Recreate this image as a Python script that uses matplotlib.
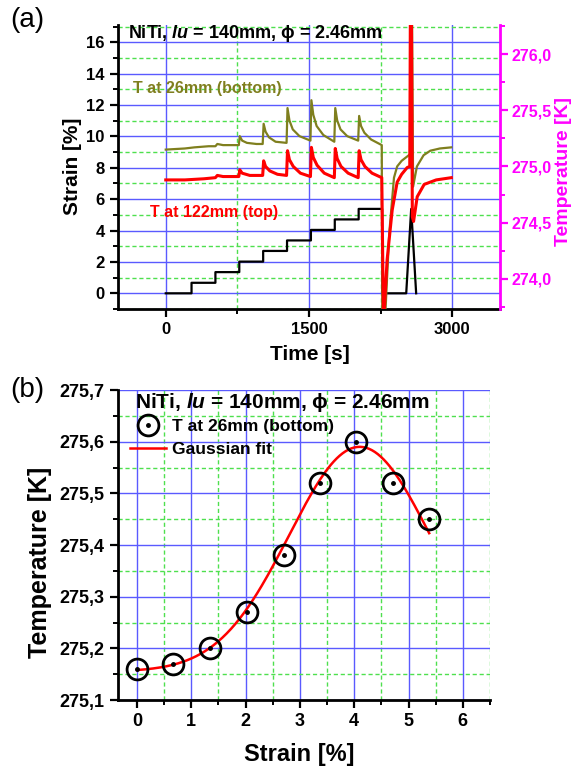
import matplotlib
matplotlib.use('Agg')
import matplotlib.pyplot as plt
import numpy as np
from matplotlib.ticker import MultipleLocator, FixedLocator, FixedFormatter
from matplotlib.legend_handler import HandlerTuple

plt.rcParams['font.family'] = ['Liberation Sans', 'DejaVu Sans']
plt.rcParams['font.weight'] = 'bold'
plt.rcParams['mathtext.fontset'] = 'custom'
plt.rcParams['mathtext.it'] = 'Liberation Sans:italic:bold'
plt.rcParams['mathtext.rm'] = 'Liberation Sans:bold'

# ---- panel (a): strain and temperatures vs time ----
strain_t = [0, 270, 270, 520, 520, 770, 770, 1020, 1020, 1270, 1270, 1520, 1520,
            1770, 1770, 2020, 2020, 2266, 2266, 2518, 2570, 2622]
strain_v = [0, 0, 0.67, 0.67, 1.35, 1.35, 2.02, 2.02, 2.7, 2.7, 3.37, 3.37, 4.04,
            4.04, 4.71, 4.71, 5.38, 5.38, 0, 0, 5.38, 0]

t_bottom = [0, 100, 200, 300, 450, 520, 540, 600, 700, 765,
            775, 800, 850, 950, 1015,
            1025, 1045, 1080, 1150, 1265,
            1275, 1295, 1330, 1400, 1515,
            1525, 1545, 1580, 1650, 1765,
            1775, 1795, 1830, 1900, 2015,
            2025, 2045, 2080, 2150, 2262,
            2268, 2300, 2340, 2390, 2423, 2470, 2530, 2560, 2566, 2578,
            2590, 2630, 2700, 2770, 2870, 2990]
T_bottom = [275.15, 275.155, 275.16, 275.17, 275.18, 275.18, 275.20, 275.19, 275.19, 275.19,
            275.27, 275.23, 275.21, 275.20, 275.20,
            275.38, 275.31, 275.26, 275.22, 275.21,
            275.52, 275.41, 275.33, 275.27, 275.23,
            275.59, 275.46, 275.36, 275.28, 275.22,
            275.52, 275.41, 275.33, 275.27, 275.23,
            275.45, 275.36, 275.30, 275.24, 275.19,
            273.60, 273.70, 274.40, 274.90, 275.00, 275.05, 275.09, 275.11, 276.50, 276.50,
            274.82, 275.00, 275.10, 275.14, 275.16, 275.17]

t_top = [0, 200, 400, 520, 540, 600, 765,
         775, 800, 880, 1015,
         1025, 1045, 1090, 1170, 1265,
         1275, 1295, 1335, 1410, 1515,
         1525, 1545, 1585, 1660, 1765,
         1775, 1795, 1835, 1910, 2015,
         2025, 2045, 2085, 2160, 2262,
         2280, 2318, 2371, 2423, 2470, 2528, 2555, 2562, 2572,
         2582, 2595, 2633, 2706, 2832, 2990]
T_top = [274.88, 274.88, 274.89, 274.90, 274.92, 274.91, 274.91,
         274.97, 274.94, 274.92, 274.92,
         275.05, 275.00, 274.96, 274.93, 274.92,
         275.14, 275.06, 275.00, 274.94, 274.91,
         275.17, 275.08, 275.01, 274.94, 274.90,
         275.16, 275.07, 275.00, 274.94, 274.90,
         275.14, 275.06, 275.00, 274.94, 274.90,
         273.60, 274.17, 274.61, 274.86, 274.93, 274.99, 275.00, 276.50, 276.50,
         274.55, 274.51, 274.73, 274.84, 274.88, 274.90]

time_ticks = [0, 1500, 3000]
strain_ticks = [0, 2, 4, 6, 8, 10, 12, 14, 16]
temp_ticks = [274.0, 274.5, 275.0, 275.5, 276.0]
temp_labels = ['274,0', '274,5', '275,0', '275,5', '276,0']

# ---- panel (b): peak temperature vs strain ----
strain_pts = [0, 0.67, 1.35, 2.02, 2.7, 3.37, 4.04, 4.71, 5.38]
temp_pts = [275.16, 275.17, 275.20, 275.27, 275.38, 275.52, 275.60, 275.52, 275.45]
# Gaussian fit parameters (y0, A, xc, w)
fit_y0, fit_A, fit_xc, fit_w = 275.155, 0.435, 4.1, 1.3
b_yticks = [275.1, 275.2, 275.3, 275.4, 275.5, 275.6, 275.7]
b_ylabels = ['275,1', '275,2', '275,3', '275,4', '275,5', '275,6', '275,7']

W, H = 574, 773
fig = plt.figure(figsize=(W / 100, H / 100), dpi=100)


def px(x, y):
    return x / W, 1 - y / H


BLUE = '#5a5aff'
GREEN = '#4ee04e'
OLIVE = '#7f7f1e'
MAG = '#ff00ff'


def style_grid(ax):
    ax.grid(which='major', color=BLUE, lw=1.0)
    ax.grid(which='minor', color=GREEN, lw=1.0, ls=(0, (3, 2)))
    ax.set_axisbelow(True)
    ax.tick_params(which='major', direction='out', length=6, width=1.6, labelsize=12)
    ax.tick_params(which='minor', direction='out', length=3.5, width=1.4)
    for s in ['left', 'bottom']:
        ax.spines[s].set_linewidth(2)
    ax.spines['top'].set_visible(False)
    ax.spines['right'].set_visible(False)


# panel (a)
ax = fig.add_axes([118 / W, 1 - 309 / H, 382 / W, 284 / H])
ax.plot(strain_t, strain_v, color='black', lw=1.6, zorder=3)
ax.set_xlim(-500, 3500)
ax.set_ylim(-1, 17.1)
ax.xaxis.set_major_locator(FixedLocator(time_ticks))
ax.xaxis.set_minor_locator(FixedLocator([750, 2250]))
ax.yaxis.set_major_locator(FixedLocator(strain_ticks))
ax.yaxis.set_minor_locator(MultipleLocator(1))
style_grid(ax)

tax = ax.twinx()
tax.plot(t_bottom, T_bottom, color=OLIVE, lw=1.6)
tax.plot(t_top, T_top, color='red', lw=2.2)
tax.set_ylim(273.73, 276.26)
tax.yaxis.set_major_locator(FixedLocator(temp_ticks))
tax.yaxis.set_major_formatter(FixedFormatter(temp_labels))
tax.yaxis.set_minor_locator(MultipleLocator(0.25))
for s in ['left', 'top', 'bottom']:
    tax.spines[s].set_visible(False)
tax.spines['right'].set_color(MAG)
tax.spines['right'].set_linewidth(2)
tax.tick_params(which='major', direction='out', length=6, width=1.6, pad=2,
                colors=MAG, labelsize=11.5)
tax.tick_params(which='minor', direction='out', length=3.5, width=1.4, colors=MAG)

fig.text(*px(10, 20), '(a)', fontsize=20, fontweight='normal', va='center')
fig.text(*px(128, 33), r'NiTi, $\mathit{lu}$ = 140mm, ϕ = 2.46mm',
         fontsize=13, va='center')
fig.text(*px(133, 88), 'T at 26mm (bottom)', color=OLIVE, fontsize=11.5, va='center')
fig.text(*px(150, 213), 'T at 122mm (top)', color='red', fontsize=11.5, va='center')
fig.text(*px(73, 166), 'Strain [%]', fontsize=15, rotation=90, ha='center', va='center')
fig.text(*px(564, 171), 'Temperature [K]', fontsize=14, color=MAG,
         rotation=90, ha='center', va='center')
fig.text(*px(310, 355), 'Time [s]', fontsize=15, ha='center', va='center')

# panel (b)
bx = fig.add_axes([118 / W, 1 - 700 / H, 372 / W, 310 / H])
xs = np.linspace(0, strain_pts[-1], 200)
fit = fit_y0 + fit_A * np.exp(-(xs - fit_xc) ** 2 / (2 * fit_w ** 2))
fit_line, = bx.plot(xs, fit, color='red', lw=1.8, zorder=3)
circ, = bx.plot(strain_pts, temp_pts, ls='none', marker='o', ms=15, mfc='none',
                mec='black', mew=2, zorder=4)
dot, = bx.plot(strain_pts, temp_pts, ls='none', marker='o', ms=2.5, color='black', zorder=4)
bx.set_xlim(-0.35, 6.5)
bx.set_ylim(275.1, 275.7)
bx.xaxis.set_major_locator(MultipleLocator(1))
bx.xaxis.set_minor_locator(MultipleLocator(0.5))
bx.yaxis.set_major_locator(FixedLocator(b_yticks))
bx.yaxis.set_major_formatter(FixedFormatter(b_ylabels))
bx.yaxis.set_minor_locator(MultipleLocator(0.05))
style_grid(bx)
bx.tick_params(which='major', labelsize=13)

leg = bx.legend([(circ, dot), fit_line], ['T at 26mm (bottom)', 'Gaussian fit'],
                handler_map={tuple: HandlerTuple(ndivide=1)},
                loc='upper left', bbox_to_anchor=px(130, 419),
                bbox_transform=fig.transFigure, frameon=False, fontsize=12.5,
                handlelength=2.1, handletextpad=0.3, labelspacing=0.45,
                borderpad=0, borderaxespad=0)

fig.text(*px(10, 390), '(b)', fontsize=20, fontweight='normal', va='center')
fig.text(*px(135, 403), r'NiTi, $\mathit{lu}$ = 140mm, ϕ = 2.46mm',
         fontsize=15, va='center')
fig.text(*px(40, 562), 'Temperature [K]', fontsize=18, rotation=90,
         ha='center', va='center')
fig.text(*px(299, 755), 'Strain [%]', fontsize=17, ha='center', va='center')

fig.savefig('out.png', dpi=100)
